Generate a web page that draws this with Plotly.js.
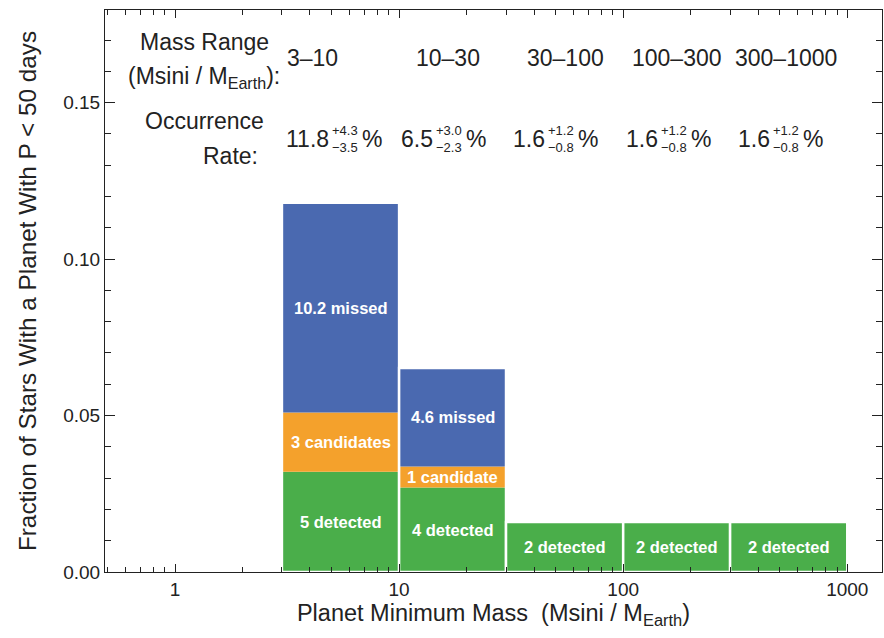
<!DOCTYPE html>
<html><head><meta charset="utf-8">
<script src="https://cdn.plot.ly/plotly-3.0.1.min.js"></script>
<style>html,body{margin:0;padding:0;background:#fff}#chart{width:884px;height:638px}</style>
</head><body><div id="chart"></div>
<script>
// ---- data ----
const binLow = [3, 10, 30, 100, 300];
const binHigh = [10, 30, 100, 300, 1000];
const detected = [0.032, 0.027, 0.016, 0.016, 0.016];
const candidates = [0.019, 0.0067, 0, 0, 0];
const missed = [0.067, 0.0315, 0, 0, 0];
const detectedLabels = ['5 detected', '4 detected', '2 detected', '2 detected', '2 detected'];
const candidateLabels = ['3 candidates', '1 candidate', '', '', ''];
const missedLabels = ['10.2 missed', '4.6 missed', '', '', ''];
const rangeLabels = ['3–10', '10–30', '30–100', '100–300', '300–1000'];
const rateValues = ['11.8', '6.5', '1.6', '1.6', '1.6'];
const rateUpper = ['+4.3', '+3.0', '+1.2', '+1.2', '+1.2'];
const rateLower = ['−3.5', '−2.3', '−0.8', '−0.8', '−0.8'];

// ---- styling / layout constants ----
const COLORS = {detected: '#4aae4a', candidates: '#f4a12c', missed: '#4a69b0'};
const FONT = 'Liberation Sans, Arial, Helvetica, sans-serif';
const M = {l: 105, r: 2, t: 10, b: 66};
const W = 884, H = 638;
const PW = W - M.l - M.r, PH = H - M.t - M.b;
const px2x = px => (px - M.l) / PW;
const py2y = py => (H - M.b - py) / PH;
const rangeLabelPx = [312, 448, 565, 677, 786];
const rateAnchorPx = [331, 435, 547, 660, 772];

const traces = [];
const annotations = [];
const segs = [
  {vals: detected, color: COLORS.detected, labels: detectedLabels},
  {vals: candidates, color: COLORS.candidates, labels: candidateLabels},
  {vals: missed, color: COLORS.missed, labels: missedLabels}
];
for (let i = 0; i < binLow.length; i++) {
  let base = 0;
  const xc = Math.log10(Math.sqrt(binLow[i] * binHigh[i]));
  segs.forEach(s => {
    const v = s.vals[i];
    if (v > 0) {
      const top = base + v;
      traces.push({
        type: 'scatter', mode: 'lines',
        x: [binLow[i], binHigh[i], binHigh[i], binLow[i], binLow[i]],
        y: [base, base, top, top, base],
        fill: 'toself', fillcolor: s.color,
        line: {width: 0, color: s.color},
        hoverinfo: 'skip', showlegend: false
      });
      if (s.labels[i]) {
        annotations.push({
          x: xc, y: (base + top) / 2, xref: 'x', yref: 'y',
          xanchor: 'center', yanchor: 'middle',
          text: '<b>' + s.labels[i] + '</b>', showarrow: false,
          font: {family: FONT, size: 16.5, color: '#ffffff'}
        });
      }
      base = top;
    }
  });
  // white outline around each whole bar
  traces.push({
    type: 'scatter', mode: 'lines',
    x: [binLow[i], binHigh[i], binHigh[i], binLow[i], binLow[i]],
    y: [0, 0, base, base, 0],
    line: {width: 2.5, color: '#ffffff'},
    hoverinfo: 'skip', showlegend: false
  });
}

const topFont = {family: FONT, size: 23, color: '#222'};
const smallFont = {family: FONT, size: 13, color: '#222'};
function note(px, py, text, font, xanchor, xshift) {
  annotations.push({
    xref: 'paper', yref: 'paper', x: px2x(px), y: py2y(py),
    xanchor: xanchor || 'center', yanchor: 'middle', xshift: xshift || 0,
    text: text, showarrow: false, font: font
  });
}
// header labels
note(204, 42, 'Mass Range', topFont);
note(204, 77, '(Msini / M<sub>Earth</sub>):', topFont);
note(204, 121, 'Occurrence', topFont);
note(230, 156, 'Rate:', topFont);
for (let i = 0; i < rangeLabels.length; i++) {
  note(rangeLabelPx[i], 58, rangeLabels[i], topFont);
  note(rateAnchorPx[i], 139, rateValues[i], topFont, 'right', 0);
  note(rateAnchorPx[i], 130, rateUpper[i], smallFont, 'left', -1);
  note(rateAnchorPx[i], 147, rateLower[i], smallFont, 'left', -1);
  note(rateAnchorPx[i], 139, '%', topFont, 'left', 29);
}

const axisLine = '#222';
const layout = {
  width: W, height: H,
  margin: M,
  paper_bgcolor: '#fff', plot_bgcolor: '#fff',
  font: {family: FONT, color: '#222'},
  showlegend: false,
  xaxis: {
    type: 'log', range: [Math.log10(0.487), 3.155],
    dtick: 1, ticks: 'inside', ticklen: 8, tickwidth: 1, tickcolor: axisLine,
    minor: {dtick: 'D1', ticks: 'inside', ticklen: 5, tickwidth: 1, tickcolor: axisLine, showgrid: false},
    showline: true, linecolor: axisLine, linewidth: 1, mirror: 'ticks',
    showgrid: false, zeroline: false,
    tickfont: {family: FONT, size: 19, color: '#222'},
    title: {text: 'Planet Minimum Mass  (Msini / M<sub>Earth</sub>)', font: {family: FONT, size: 23.5, color: '#222'}, standoff: 4}
  },
  yaxis: {
    range: [0, 0.1796], dtick: 0.05, tickformat: '.2f',
    ticks: 'inside', ticklen: 10, tickwidth: 1, tickcolor: axisLine,
    minor: {dtick: 0.01, ticks: 'inside', ticklen: 6, tickwidth: 1, tickcolor: axisLine, showgrid: false},
    showline: true, linecolor: axisLine, linewidth: 1, mirror: 'ticks',
    showgrid: false, zeroline: false,
    tickfont: {family: FONT, size: 19, color: '#222'},
    title: {text: 'Fraction of Stars With a Planet With P < 50 days', font: {family: FONT, size: 24.3, color: '#222'}, standoff: 19}
  },
  annotations: annotations
};
Plotly.newPlot('chart', traces, layout, {staticPlot: true, displayModeBar: false});
</script>
</body></html>
